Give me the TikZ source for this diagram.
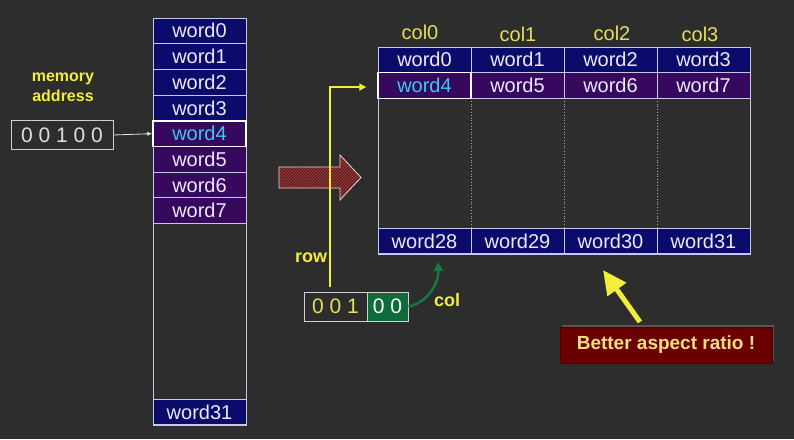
\documentclass[tikz,border=0pt]{standalone}
\usepackage{fontspec}
\setmainfont{Liberation Sans}
\usetikzlibrary{arrows.meta,patterns,calc,shadows}
\definecolor{bg}{HTML}{2D2D2D}
\definecolor{navy}{HTML}{0B0B6B}
\definecolor{violet}{HTML}{36095F}
\definecolor{cellline}{HTML}{C9C6E6}
\definecolor{celltext}{HTML}{ECE8FF}
\definecolor{cyantext}{HTML}{3CC8F0}
\definecolor{ylw}{HTML}{E6E05A}
\definecolor{ylwb}{HTML}{F2EE3A}
\definecolor{grn}{HTML}{0E6B3A}
\definecolor{grnarrow}{HTML}{157A42}
\definecolor{darkred}{HTML}{6B0000}
\definecolor{hatchfill}{HTML}{5A1C1C}
\definecolor{hatchline}{HTML}{B04848}
\definecolor{boxline}{HTML}{D0D0D0}
\begin{document}
\begin{tikzpicture}[x=1pt,y=-1pt,
  cell/.style={draw=cellline, line width=1pt, minimum width=93pt, minimum height=25.7pt,
    inner sep=0pt, text=celltext, font=\fontsize{20}{20}\selectfont},
  nv/.style={cell, fill=navy},
  vi/.style={cell, fill=violet},
  sel/.style={cell, fill=violet, draw=white, line width=1.5pt, text=cyantext},
  collabel/.style={text=ylw, font=\fontsize{20}{20}\selectfont, inner sep=0pt},
  ylabel/.style={text=ylwb, font=\bfseries\fontsize{18}{20}\selectfont, inner sep=0pt},
  binbox/.style={draw=boxline, line width=1pt, minimum height=29pt, inner sep=0pt,
    font=\fontsize{21}{21}\selectfont},
]
\useasboundingbox (0,0) rectangle (794,439);
\fill[bg] (0,0) rectangle (794,439);

% ---- left memory column ----
\draw[cellline, line width=1pt] (153,18) rectangle (246,425);
\node[nv] (l0) at (199.5,30.85) {word0};
\node[nv] (l1) at (199.5,56.55) {word1};
\node[nv] (l2) at (199.5,82.25) {word2};
\node[nv] (l3) at (199.5,107.95) {word3};
\node[vi] (l5) at (199.5,159.35) {word5};
\node[vi] (l6) at (199.5,185.05) {word6};
\node[vi] (l7) at (199.5,210.75) {word7};
\node[sel] (l4) at (199.5,133.65) {word4};
\node[nv] (l31) at (199.5,412) {word31};

\node[align=center, text=ylwb, font=\bfseries\fontsize{16}{20}\selectfont] (memaddr) at (63,87) {memory\\address};
\node[binbox, minimum width=102pt, text=white!88!black] (addr) at (62,135) {0 0 1 0 0};
\draw[white!90!black, line width=0.8pt, -{Latex[length=5pt,width=4pt]}] (addr.east) -- (l4.west);

% ---- big hatched arrow ----
\fill[hatchfill] (279,167) -- (340,167) -- (340,155) -- (361,177.5) -- (340,200) -- (340,188) -- (279,188) -- cycle;
\path[pattern=north east lines, pattern color=hatchline] (279,167) -- (340,167) -- (340,155) -- (361,177.5) -- (340,200) -- (340,188) -- (279,188) -- cycle;
\draw[draw=red!20!white, line width=0.8pt] (279,167) -- (340,167) -- (340,155) -- (361,177.5) -- (340,200) -- (340,188) -- (279,188) -- cycle;

% ---- right grid ----
\draw[cellline, line width=1pt] (378,47) rectangle (750,254);
\foreach \xx in {471,564,657} \draw[gray!70, dotted, line width=0.8pt] (\xx,98) -- (\xx,228);
\node[nv] (r0) at (424.5,59.85) {word0};
\node[nv] (r1) at (517.5,59.85) {word1};
\node[nv] (r2) at (610.5,59.85) {word2};
\node[nv] (r3) at (703.5,59.85) {word3};
\node[vi] (r5) at (517.5,85.55) {word5};
\node[vi] (r6) at (610.5,85.55) {word6};
\node[vi] (r7) at (703.5,85.55) {word7};
\node[sel] (r4) at (424.5,85.55) {word4};
\node[nv] (r28) at (424.5,241) {word28};
\node[nv] (r29) at (517.5,241) {word29};
\node[nv] (r30) at (610.5,241) {word30};
\node[nv] (r31) at (703.5,241) {word31};

\node[collabel] (c0) at (420,32) {col0};
\node[collabel] (c1) at (518,34) {col1};
\node[collabel] (c2) at (612,33) {col2};
\node[collabel] (c3) at (700,34) {col3};

% ---- bottom address ----
\node[binbox, minimum width=63pt, text=ylw] (b1) at (335.5,306.5) {0 0 1};
\node[binbox, minimum width=41pt, fill=grn, text=white] (b2) at (387.5,306.5) {0 0};

\coordinate (rowstart) at (330,287);
\draw[ylwb, line width=2pt, -{Triangle[length=7pt,width=7pt]}] (rowstart) |- ($(r4.west)+(-11,1.5)$);
\node[ylabel] (rowlbl) at (311,258) {row};

\coordinate (colend) at (438,262);
\draw[grnarrow, line width=2.5pt, -{Triangle[length=9pt,width=9pt]}] (b2.east) .. controls +(20,-4) and +(1,20) .. (colend);
\node[ylabel] (collbl) at (447,300) {col};

% ---- better aspect ratio ----
\node[fill=darkred, draw=black!70!red, line width=1pt, minimum width=212pt, minimum height=36pt,
  inner sep=0pt, text={rgb,255:red,246;green,222;blue,126}, font=\bfseries\fontsize{19}{19}\selectfont,
  drop shadow={opacity=0.5, shadow xshift=2pt, shadow yshift=2pt}] (better) at (666,345) {Better aspect ratio !};
\coordinate (ytail) at (640,322);
\coordinate (ytip) at (603,270);
\draw[ylwb, line width=5pt, -{Triangle[length=24pt,width=22pt]}] (ytail) -- (ytip);
\end{tikzpicture}
\end{document}
